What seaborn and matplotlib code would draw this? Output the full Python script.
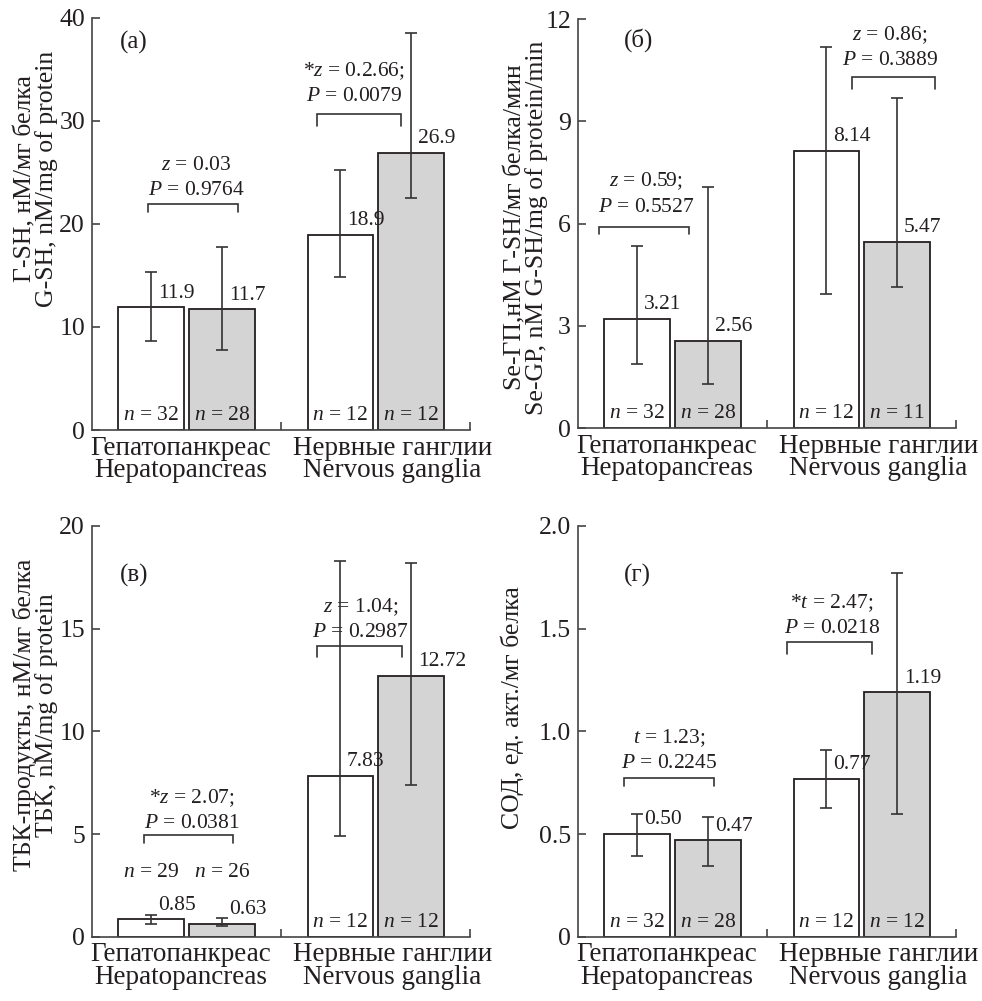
import pandas as pd
import matplotlib
matplotlib.use('Agg')
import matplotlib.pyplot as plt
import seaborn as sns

sns.set_style('ticks')
plt.rcParams['font.family'] = ['Liberation Serif', 'DejaVu Serif']
plt.rcParams['mathtext.fontset'] = 'custom'
plt.rcParams['mathtext.rm'] = 'Liberation Serif'
plt.rcParams['mathtext.it'] = 'Liberation Serif:italic'

# ---- данные (порядок: гепатопанкреас A, B, ганглии A, B) ----
tissues = ['Гепатопанкреас\nHepatopancreas', 'Нервные ганглии\nNervous ganglia']
groups = ['A', 'B']

gsh_mean = [11.9, 11.7, 18.9, 26.9]
gsh_lo = [8.64, 7.77, 14.8, 22.5]
gsh_hi = [15.3, 17.8, 25.2, 38.5]
gsh_n = [32, 28, 12, 12]

gp_mean = [3.21, 2.56, 8.14, 5.47]
gp_lo = [1.88, 1.30, 3.94, 4.15]
gp_hi = [5.35, 7.06, 11.17, 9.69]
gp_n = [32, 28, 12, 11]

tbk_mean = [0.85, 0.63, 7.83, 12.72]
tbk_lo = [0.65, 0.52, 4.90, 7.37]
tbk_hi = [1.06, 0.94, 18.30, 18.18]
tbk_n = [29, 26, 12, 12]

sod_mean = [0.50, 0.47, 0.77, 1.19]
sod_lo = [0.393, 0.344, 0.625, 0.60]
sod_hi = [0.596, 0.584, 0.909, 1.769]
sod_n = [32, 28, 12, 12]

gsh_stats = [('$z$ = 0.03', '$P$ = 0.9764'), ('*$z$ = 0.2.66;', '$P$ = 0.0079')]
gp_stats = [('$z$ = 0.59;', '$P$ = 0.5527'), ('$z$ = 0.86;', '$P$ = 0.3889')]
tbk_stats = [('*$z$ = 2.07;', '$P$ = 0.0381'), ('$z$ = 1.04;', '$P$ = 0.2987')]
sod_stats = [('$t$ = 1.23;', '$P$ = 0.2245'), ('*$t$ = 2.47;', '$P$ = 0.0218')]

# ---- раскладка панелей ----
panels = [
    dict(tag='(а)', mean=gsh_mean, lo=gsh_lo, hi=gsh_hi, n=gsh_n, stats=gsh_stats, fmt='{:.1f}',
         ylabel='Г-SH, нМ/мг белка\nG-SH, nM/mg of protein',
         rect=[0.0937, 0.5704, 0.385, 0.412], yticks=[0, 10, 20, 30, 40],
         yticklabels=['0', '10', '20', '30', '40'],
         ylab_xy=(-0.09, 0.61), tag_xy=(0.074, 0.94),
         brackets=[(-0.204, 0.273, 21.9, 0.75), (0.688, 1.135, 30.65, 1.2)],
         stat_xy=[(0.053, 22.8), (0.887, 31.9)], n_y=[None, None]),
    dict(tag='(б)', mean=gp_mean, lo=gp_lo, hi=gp_hi, n=gp_n, stats=gp_stats, fmt='{:.2f}',
         ylabel='Se-ГП,нМ Г-SH/мг белка/мин\nSe-GP, nM G-SH/mg of protein/min',
         rect=[0.5886, 0.5724, 0.385, 0.4086], yticks=[0, 3, 6, 9, 12],
         yticklabels=['0', '3', '6', '9', '12'],
         ylab_xy=(-0.079, 0.49), tag_xy=(0.122, 0.949),
         brackets=[(-0.39, 0.087, 5.91, 0.22), (0.95, 1.39, 10.29, 0.35)],
         stat_xy=[(-0.14, 6.35), (1.15, 10.65)], n_y=[None, None]),
    dict(tag='(в)', mean=tbk_mean, lo=tbk_lo, hi=tbk_hi, n=tbk_n, stats=tbk_stats, fmt='{:.2f}',
         ylabel='ТБК-продукты, нМ/мг белка\nТБК, nM/mg of protein',
         rect=[0.0937, 0.064, 0.385, 0.4106], yticks=[0, 5, 10, 15, 20],
         yticklabels=['0', '5', '10', '15', '20'],
         ylab_xy=(-0.09, 0.54), tag_xy=(0.074, 0.88),
         brackets=[(-0.227, 0.248, 4.95, 0.4), (0.688, 1.138, 14.17, 0.53)],
         stat_xy=[(0.027, 5.28), (0.92, 14.6)], n_y=[2.92, None]),
    dict(tag='(г)', mean=sod_mean, lo=sod_lo, hi=sod_hi, n=sod_n, stats=sod_stats, fmt='{:.2f}',
         ylabel='СОД, ед. акт./мг белка',
         rect=[0.5886, 0.064, 0.385, 0.4106], yticks=[0, 0.5, 1.0, 1.5, 2.0],
         yticklabels=['0', '0.5', '1.0', '1.5', '2.0'],
         ylab_xy=(-0.143, 0.557), tag_xy=(0.122, 0.88),
         brackets=[(-0.259, 0.218, 0.771, 0.037), (0.606, 1.057, 1.433, 0.056)],
         stat_xy=[(-0.016, 0.82), (0.844, 1.48)], n_y=[None, None]),
]
xlabel_pos = [-0.03, 1.09]   # подписи категорий чуть смещены, как в оригинале

ink = '#231f20'
axis_col = '#444444'
grey = '#d4d4d4'

fig = plt.figure(figsize=(9.82, 10.01), dpi=100)

for p in panels:
    ax = fig.add_axes(p['rect'])
    df = pd.DataFrame({
        'tissue': [tissues[0], tissues[0], tissues[1], tissues[1]],
        'group': groups * 2,
        'value': p['mean'],
    })
    sns.barplot(data=df, x='tissue', y='value', hue='group', order=tissues, hue_order=groups,
                palette={'A': 'white', 'B': grey}, edgecolor=ink, linewidth=1.3,
                width=0.75, gap=0.08, errorbar=None, legend=False, ax=ax)
    bar_conts = list(ax.containers)

    # ошибки, подписи значений и n
    for h, cont in enumerate(bar_conts):
        for i, bar in enumerate(cont):
            k = i * 2 + h
            xc = bar.get_x() + bar.get_width() / 2
            m = p['mean'][k]
            ax.errorbar(xc, m, yerr=[[m - p['lo'][k]], [p['hi'][k] - m]], fmt='none',
                        ecolor='#333333', elinewidth=1.2, capsize=4.5, capthick=1.2, zorder=4)
            ax.annotate(p['fmt'].format(m), (xc, m), xytext=(5, 7), textcoords='offset points',
                        ha='left', va='baseline', fontsize=15.5, color=ink, zorder=5)
            ny = p['n_y'][i]
            if ny is None:
                ax.annotate(f'$n$ = {p["n"][k]}', (xc, 0), xytext=(0, 7.5), textcoords='offset points',
                            ha='center', va='baseline', fontsize=15.5, color=ink, zorder=5)
            else:
                ax.text(xc, ny, f'$n$ = {p["n"][k]}', ha='center', va='baseline',
                        fontsize=15.5, color=ink, zorder=5)

    # скобки сравнения и статистика
    for (x0, x1, yb, leg), (l1, l2), (tx, ty) in zip(p['brackets'], p['stats'], p['stat_xy']):
        ax.plot([x0, x0, x1, x1], [yb - leg, yb, yb, yb - leg], color='#333333', lw=1.2,
                solid_joinstyle='miter', zorder=3)
        ax.text(tx, ty, l2, ha='center', va='baseline', fontsize=15.5, color=ink)
        ax.annotate(l1, (tx, ty), xytext=(0, 18), textcoords='offset points',
                    ha='center', va='baseline', fontsize=15.5, color=ink)

    ax.text(p['tag_xy'][0], p['tag_xy'][1], p['tag'], transform=ax.transAxes,
            ha='left', va='center', fontsize=18, color=ink)

    ax.set_xlim(-0.5, 1.5)
    ax.set_ylim(p['yticks'][0], p['yticks'][-1])
    ax.set_yticks(p['yticks'])
    ax.set_yticklabels(p['yticklabels'])
    ax.set_xticks(xlabel_pos)
    ax.set_xticklabels(tissues, linespacing=0.88)
    ax.set_xticks([0.5, 1.5], minor=True)
    ax.tick_params(axis='x', which='major', length=0, pad=4, labelsize=19.5, labelcolor=ink)
    ax.tick_params(axis='x', which='minor', direction='in', length=6, width=1.2, color=axis_col)
    ax.tick_params(axis='y', direction='in', length=6, width=1.2, color=axis_col,
                   pad=5, labelsize=18.5, labelcolor=ink)
    ax.set_xlabel('')
    ax.set_ylabel(p['ylabel'], fontsize=18.5, color=ink, linespacing=0.92)
    ax.yaxis.set_label_coords(*p['ylab_xy'])
    sns.despine(ax=ax)
    for s in ['left', 'bottom']:
        ax.spines[s].set_color(axis_col)
        ax.spines[s].set_linewidth(1.2)

fig.savefig('out.png', dpi=100)
